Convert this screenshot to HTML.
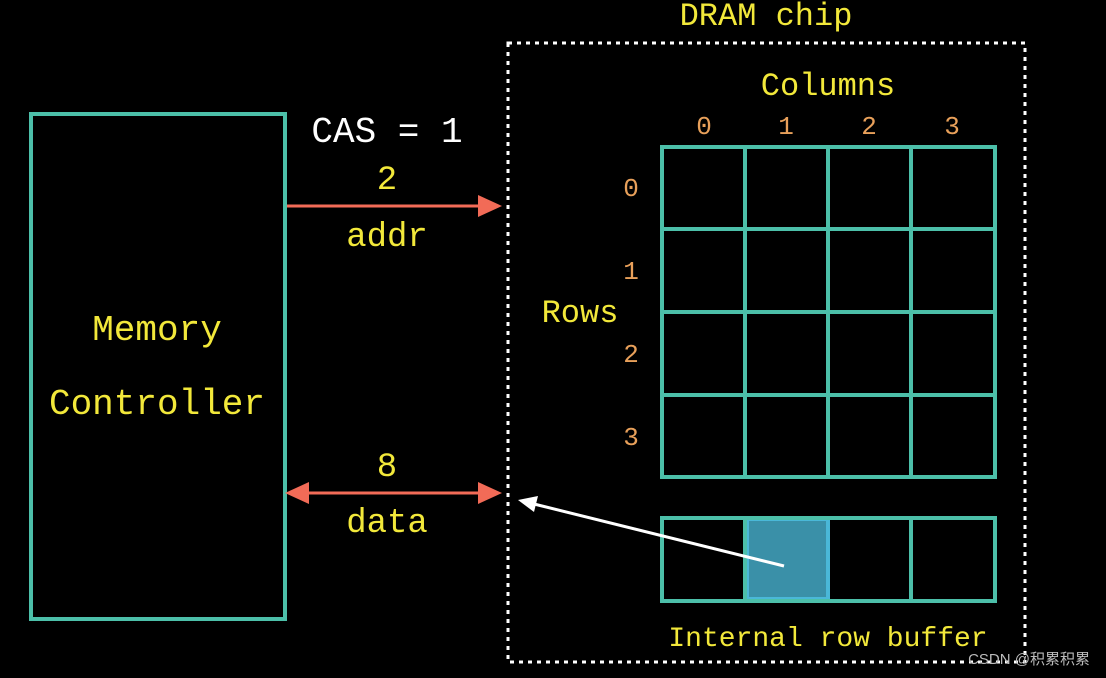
<!DOCTYPE html>
<html><head><meta charset="utf-8"><style>
html,body{margin:0;padding:0;background:#000;}
svg{display:block;}
text{font-family:"Liberation Mono","Noto Sans CJK SC",monospace;}
</style></head><body>
<svg width="1106" height="678" viewBox="0 0 1106 678" xmlns="http://www.w3.org/2000/svg">
<rect width="1106" height="678" fill="#000"/>
<!-- Memory controller -->
<rect x="31" y="114" width="254" height="505" fill="none" stroke="#4cbfa9" stroke-width="4"/>
<text x="157" y="340" font-size="36" fill="#f2e83a" text-anchor="middle">Memory</text>
<text x="157" y="414" font-size="36" fill="#f2e83a" text-anchor="middle">Controller</text>
<!-- DRAM chip dotted -->
<rect x="508" y="43" width="517" height="619" fill="none" stroke="#fff" stroke-width="3" stroke-dasharray="4 5"/>
<text x="766" y="25" font-size="32" fill="#f2e83a" text-anchor="middle">DRAM chip</text>
<text x="828" y="95" font-size="32" fill="#f2e83a" text-anchor="middle">Columns</text>
<g font-size="26" fill="#e8a05a" text-anchor="middle">
<text x="704" y="134">0</text><text x="786" y="134">1</text><text x="869" y="134">2</text><text x="952" y="134">3</text>
<text x="631" y="196">0</text><text x="631" y="279">1</text><text x="631" y="362">2</text><text x="631" y="445">3</text>
</g>
<text x="580" y="322" font-size="32" fill="#f2e83a" text-anchor="middle">Rows</text>
<!-- Grid -->
<g stroke="#4cbfa9" stroke-width="4" fill="none">
<rect x="662" y="147" width="333" height="330"/>
<line x1="745" y1="147" x2="745" y2="477"/><line x1="828" y1="147" x2="828" y2="477"/><line x1="911" y1="147" x2="911" y2="477"/>
<line x1="662" y1="229" x2="995" y2="229"/><line x1="662" y1="312" x2="995" y2="312"/><line x1="662" y1="395" x2="995" y2="395"/>
</g>
<!-- Buffer -->
<rect x="747" y="519" width="81" height="80" fill="#3a90a8" stroke="#4ab8d8" stroke-width="4"/>
<g stroke="#4cbfa9" stroke-width="4" fill="none">
<rect x="662" y="518" width="333" height="83"/>
<line x1="745" y1="518" x2="745" y2="601"/><line x1="911" y1="518" x2="911" y2="601"/>
</g>
<text x="828" y="646" font-size="28" fill="#f2e83a" text-anchor="middle">Internal row buffer</text>
<!-- addr arrow -->
<text x="387" y="142" font-size="36" fill="#fff" text-anchor="middle">CAS = 1</text>
<text x="387" y="189" font-size="34" fill="#f2e83a" text-anchor="middle">2</text>
<line x1="287" y1="206" x2="482" y2="206" stroke="#f26b57" stroke-width="3"/>
<polygon points="478,195 502,206 478,217" fill="#f26b57"/>
<text x="387" y="246" font-size="34" fill="#f2e83a" text-anchor="middle">addr</text>
<!-- data arrow -->
<text x="387" y="476" font-size="34" fill="#f2e83a" text-anchor="middle">8</text>
<line x1="305" y1="493" x2="482" y2="493" stroke="#f26b57" stroke-width="3"/>
<polygon points="478,482 502,493 478,504" fill="#f26b57"/>
<polygon points="309,482 285,493 309,504" fill="#f26b57"/>
<text x="387" y="532" font-size="34" fill="#f2e83a" text-anchor="middle">data</text>
<!-- white arrow -->
<line x1="784" y1="566" x2="534" y2="504" stroke="#fff" stroke-width="3"/>
<polygon points="518,500 538,496 534,512" fill="#fff"/>
<text x="1090" y="664" font-size="15" fill="#bbb" text-anchor="end" style="font-family:'Liberation Sans','Noto Sans CJK SC',sans-serif">CSDN @积累积累</text>
</svg>
</body></html>
